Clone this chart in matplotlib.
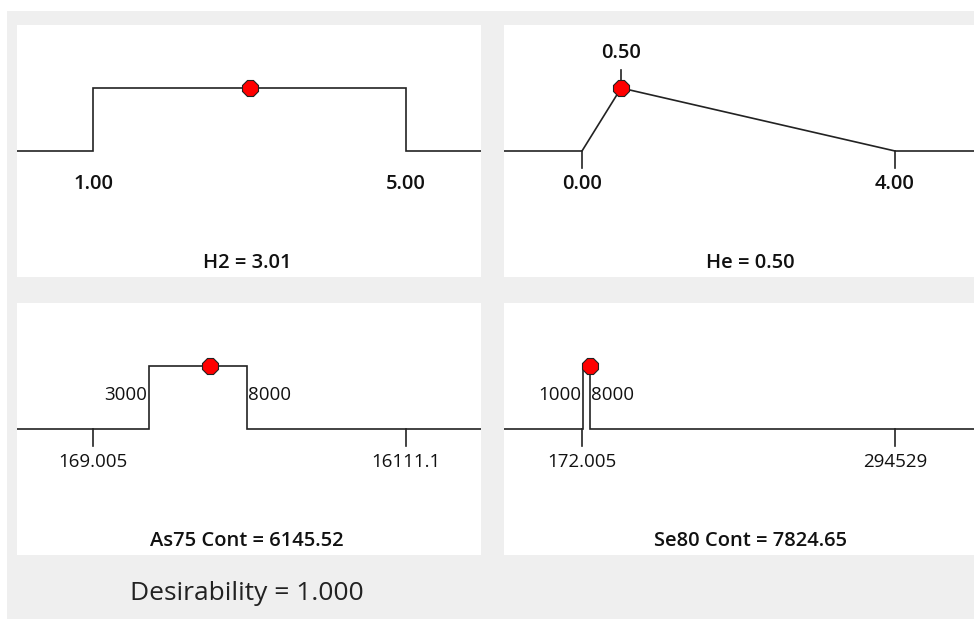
import matplotlib.pyplot as plt
from matplotlib.patches import Rectangle

# factor settings
names = ['H2', 'He', 'As75 Cont', 'Se80 Cont']
current = [3.01, 0.50, 6145.52, 7824.65]
current_labels = ['3.01', '0.50', '6145.52', '7824.65']
range_lo = [1.00, 0.00, 169.005, 172.005]
range_hi = [5.00, 4.00, 16111.1, 294529]
range_lo_labels = ['1.00', '0.00', '169.005', '172.005']
range_hi_labels = ['5.00', '4.00', '16111.1', '294529']
show_range_ticks = [False, True, True, True]
# goal shapes: (x, desirability) corner points between the range ends
goal_x = [[1.00, 1.00, 5.00, 5.00],
          [0.00, 0.50, 4.00],
          [3000, 3000, 8000, 8000],
          [1000, 1000, 8000, 8000]]
goal_y = [[0, 1, 1, 0],
          [0, 1, 0],
          [0, 1, 1, 0],
          [0, 1, 1, 0]]
goal_lo_labels = [None, None, '3000', '1000']
goal_hi_labels = [None, None, '8000', '8000']
desirability = '1.000'

W, H = 974, 619
fig = plt.figure(figsize=(W / 100, H / 100), dpi=100, facecolor='white')
fig.patches.append(Rectangle((7 / W, 0), 1, (H - 11) / H, transform=fig.transFigure,
                             facecolor='#efefef', edgecolor='none', zorder=-10))

# panel boxes in pixels: (left, top, right, bottom)
boxes = [(17, 25, 481, 277), (504, 25, 974, 277),
         (17, 303, 481, 555), (504, 303, 974, 555)]
line_col = '#222222'
txt_col = '#111111'
font = 'Open Sans'

for i, (l, t, r, b) in enumerate(boxes):
    ax = fig.add_axes([l / W, (H - b) / H, (r - l) / W, (b - t) / H])
    ax.set_facecolor('white')
    for s in ax.spines.values():
        s.set_visible(False)
    ax.set_xticks([])
    ax.set_yticks([])

    lo, hi = range_lo[i], range_hi[i]
    span = hi - lo
    px = 313.0 / span  # pixels per unit
    left_px = 76 if l == 17 else 78
    x0 = lo - left_px / px
    x1 = x0 + (r - l) / px
    ax.set_xlim(x0, x1)
    ax.set_ylim(-2, 2)

    xs = [x0] + goal_x[i] + [x1]
    ys = [0] + goal_y[i] + [0]
    ax.plot(xs, ys, color=line_col, lw=1.2, solid_joinstyle='miter', zorder=2)

    if show_range_ticks[i]:
        for v in (lo, hi):
            ax.plot([v, v], [0, -0.27], color=line_col, lw=1.2, zorder=2)

    bold = i < 2
    fw = 'semibold' if bold else 'normal'
    fs = 14.5 if bold else 13.5
    ax.text(lo, -0.52, range_lo_labels[i], ha='center', va='center',
            fontsize=fs, fontweight=fw, family=font, color=txt_col)
    ax.text(hi, -0.52, range_hi_labels[i], ha='center', va='center',
            fontsize=fs, fontweight=fw, family=font, color=txt_col)

    if goal_lo_labels[i]:
        ax.text(goal_x[i][0] - 2 / px, 0.54, goal_lo_labels[i], ha='right', va='center',
                fontsize=13.5, family=font, color=txt_col)
        ax.text(goal_x[i][-1] + 1 / px, 0.54, goal_hi_labels[i], ha='left', va='center',
                fontsize=13.5, family=font, color=txt_col)

    if i == 1:
        peak = goal_x[i][1]
        ax.plot([peak, peak], [1.13, 1.29], color=line_col, lw=1.2)
        ax.text(peak, 1.56, '0.50', ha='center', va='center',
                fontsize=14.5, fontweight='semibold', family=font, color=txt_col)

    ax.plot([current[i]], [1], marker='8', ms=13, color='#ff0000',
            mec='#222222', mew=0.8, zorder=5)

    ax.text(0.5 * (x0 + x1) - 2 / px if l == 17 else x0 + 246 / px, -1.78,
            f'{names[i]} = {current_labels[i]}', ha='center', va='center',
            fontsize=14.5, fontweight='semibold', family=font, color=txt_col)

fig.text(247 / W, 1 - 593 / H, f'Desirability = {desirability}', ha='center', va='center',
         fontsize=19, family=font, color='#222222')

fig.savefig('out.png', dpi=100, facecolor=fig.get_facecolor())
